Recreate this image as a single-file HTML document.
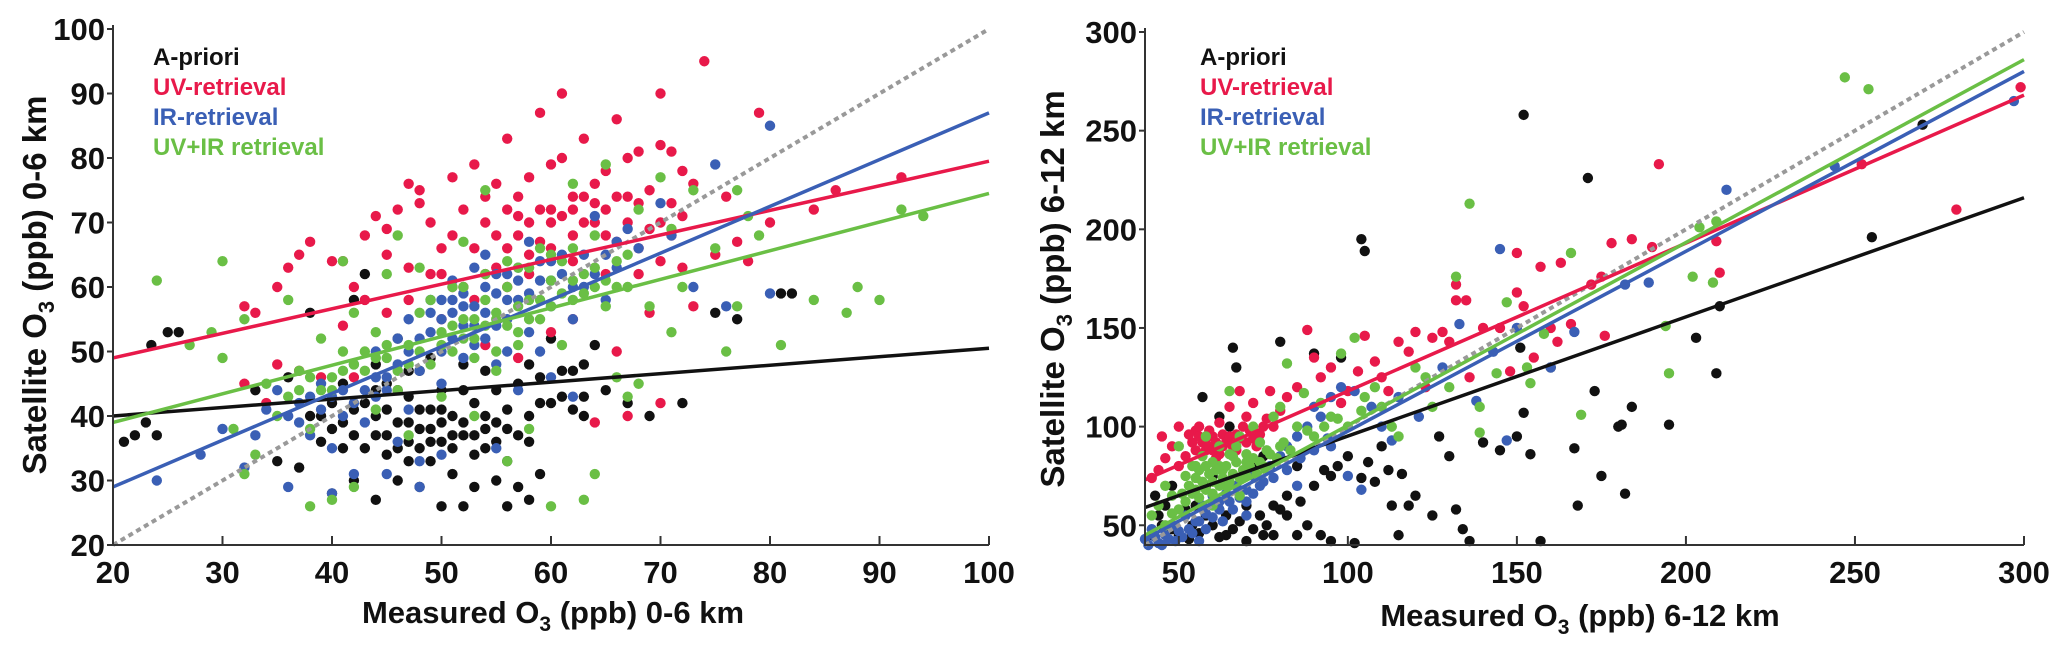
<!DOCTYPE html>
<html><head><meta charset="utf-8"><style>
html,body{margin:0;padding:0;background:#fff;}
svg{display:block;font-family:"Liberation Sans Narrow","Liberation Sans",sans-serif;font-weight:bold;}
</style></head><body>
<svg id="chart" width="2067" height="655" viewBox="0 0 2067 655" xmlns="http://www.w3.org/2000/svg"></svg>
<script>
// ---------- data: left panel (0-6 km) ----------
const leftApriori=[[21,36],[22,37],[23,39],[23.5,51],[24,37],[25,53],[26,53],[33,44],[35,33],[36,46],[37,32],[38,56],[39,40],[40,38],[40,28],[41,45],[41,35],[42,58],[42,30],[43,42],[44,37],[44,48],[45,45],[45,34],[46,39],[46,52],[47,36],[47,43],[48,29],[48,41],[48,47],[49,38],[49,33],[50,36],[50,26],[50,44],[51,40],[51,31],[52,37],[52,48],[53,29],[53,42],[54,35],[54,47],[55,30],[55,39],[55,44],[56,38],[56,33],[57,45],[57,29],[58,36],[58,27],[59,42],[59,31],[60,42],[60,52],[61,43],[62,47],[63,48],[63,40],[64,51],[65,44],[67,42],[69,40],[72,42],[75,56],[77,55],[81,59],[82,59],[46,30],[52,26],[49,49],[43,62],[38,40],[44,27],[56,26],[47,33],[51,35],[45,41],[39,36],[41,39],[42,41],[43,35],[44,40],[45,37],[46,35],[47,39],[48,38],[49,36],[50,39],[50,41],[51,37],[52,39],[53,37],[53,34],[54,40],[55,36],[56,41],[57,37],[58,40],[49,41],[47,47],[44,44],[40,42],[52,44],[54,38],[48,35],[46,44],[42,37],[61,47],[59,46],[58,48],[63,43],[62,41]];
const leftUV=[[32,57],[33,56],[35,60],[36,63],[37,65],[38,67],[40,64],[41,64],[42,60],[43,68],[44,71],[45,69],[45,65],[46,72],[47,76],[48,75],[48,73],[49,70],[50,66],[50,62],[51,77],[51,68],[52,72],[52,60],[53,79],[53,66],[54,74],[54,70],[55,76],[55,63],[56,83],[56,72],[57,74],[57,68],[58,77],[58,65],[59,87],[59,72],[60,79],[60,70],[61,80],[61,90],[62,72],[62,68],[63,83],[63,74],[64,76],[64,70],[65,78],[65,72],[66,86],[66,67],[67,80],[67,74],[68,81],[68,62],[69,75],[69,56],[70,90],[70,82],[71,81],[71,68],[72,78],[72,63],[73,76],[73,57],[74,95],[75,65],[76,74],[77,67],[78,64],[79,87],[80,70],[84,72],[86,75],[92,77],[35,48],[37,47],[39,46],[42,46],[47,58],[50,55],[54,51],[57,49],[60,53],[62,55],[66,50],[70,42],[67,40],[64,39],[34,42],[32,45],[55,68],[56,66],[57,71],[58,70],[59,67],[60,72],[61,71],[62,74],[63,70],[64,73],[65,68],[66,74],[67,70],[68,73],[69,69],[70,70],[71,73],[72,71],[60,66],[58,62],[56,60],[54,62],[62,64],[65,62],[68,66],[70,64],[53,58],[51,60],[49,62],[47,63],[45,56],[43,58],[41,54]];
const leftIR=[[24,30],[28,34],[30,38],[32,32],[33,37],[34,41],[35,44],[36,29],[37,42],[38,37],[39,45],[40,35],[41,44],[42,31],[42,48],[43,39],[44,50],[44,43],[45,46],[46,36],[46,52],[47,41],[47,55],[48,47],[48,33],[49,53],[49,58],[50,50],[50,45],[51,56],[51,61],[52,54],[52,49],[53,57],[53,63],[54,52],[54,65],[55,59],[55,48],[56,55],[56,62],[57,58],[57,44],[58,53],[58,67],[59,61],[59,50],[60,57],[60,64],[61,65],[62,55],[63,60],[64,71],[65,58],[66,63],[67,69],[68,66],[70,73],[71,68],[73,60],[75,79],[80,85],[80,59],[76,57],[55,35],[50,34],[45,31],[40,28],[60,46],[48,29],[62,43],[50,55],[51,52],[52,57],[52,59],[53,54],[53,51],[54,56],[54,60],[55,54],[55,62],[56,58],[56,50],[57,61],[57,63],[51,58],[50,58],[49,56],[48,52],[47,50],[46,48],[45,44],[44,46],[43,44],[42,42],[41,40],[40,43],[39,41],[38,43],[37,39],[36,40],[58,59],[59,64],[60,61],[61,62],[62,60],[63,65],[64,62],[65,65],[66,67]];
const leftUVIR=[[24,61],[27,51],[29,53],[30,64],[30,49],[31,38],[32,55],[32,31],[33,34],[34,45],[35,40],[36,58],[37,47],[38,26],[38,38],[39,52],[40,27],[40,44],[41,64],[41,50],[42,29],[42,56],[43,47],[44,53],[44,41],[45,49],[45,62],[46,44],[46,68],[47,51],[47,37],[48,56],[48,63],[49,48],[49,58],[50,53],[50,43],[51,60],[51,50],[52,55],[52,67],[53,52],[53,40],[54,58],[54,75],[55,55],[55,47],[56,60],[56,33],[57,53],[57,63],[58,58],[58,38],[59,66],[59,55],[60,61],[60,26],[61,64],[61,51],[62,76],[62,58],[63,27],[63,62],[64,31],[64,68],[65,57],[65,79],[66,64],[66,46],[67,60],[67,43],[68,72],[68,45],[69,57],[70,77],[71,53],[71,69],[72,60],[73,75],[75,66],[76,50],[77,57],[77,75],[78,71],[79,68],[81,51],[84,58],[88,60],[90,58],[92,72],[94,71],[87,56],[50,51],[51,54],[52,52],[53,55],[54,54],[55,56],[56,54],[57,57],[58,55],[59,58],[60,57],[61,59],[62,61],[63,59],[64,63],[65,61],[66,60],[67,65],[48,50],[47,48],[46,47],[45,51],[44,49],[43,50],[42,48],[41,47],[40,46],[39,44],[38,46],[37,44],[36,43],[52,60],[54,62],[56,64],[58,63],[60,65],[62,66],[64,60],[53,49],[55,50],[57,51]];
const leftFitStart=[40,49,29,39];   // apriori, UV, IR, UV+IR at x=20
const leftFitEnd=[50.5,79.5,87,74.5]; // at x=100
const leftXTicks=[20,30,40,50,60,70,80,90,100];
const leftYTicks=[20,30,40,50,60,70,80,90,100];
// ---------- data: right panel (6-12 km) ----------
const rightApriori=[[43,65],[45,50],[48,70],[50,45],[53,43],[55,60],[57,115],[58,55],[60,50],[62,105],[64,45],[65,100],[66,140],[67,130],[70,42],[72,80],[75,45],[78,60],[80,143],[82,55],[85,45],[88,50],[90,137],[92,45],[95,42],[98,135],[100,85],[102,41],[104,195],[105,189],[108,72],[110,90],[113,60],[115,45],[118,60],[120,65],[125,55],[127,95],[130,85],[132,58],[134,48],[136,42],[140,92],[145,88],[150,95],[151,140],[152,107],[152,258],[154,86],[157,42],[160,130],[167,89],[168,60],[171,226],[173,118],[175,75],[180,100],[181,101],[182,66],[184,110],[195,101],[203,145],[209,127],[210,161],[255,196],[270,253],[75,85],[85,80],[95,75],[60,75],[42,45],[44,55],[46,60],[48,48],[52,58],[54,50],[56,46],[58,70],[60,62],[62,44],[64,55],[66,48],[68,52],[70,60],[72,48],[74,55],[76,50],[78,45],[80,58],[82,65],[86,62],[90,70],[93,78],[97,80],[104,74],[106,82],[112,78],[116,76]];
const rightUV=[[42,74],[45,95],[48,90],[50,100],[52,85],[55,98],[57,92],[58,88],[60,95],[62,102],[63,90],[65,110],[67,96],[68,118],[70,105],[72,112],[75,100],[77,118],[80,108],[82,115],[85,120],[88,149],[90,135],[92,125],[95,130],[98,112],[100,118],[103,128],[105,146],[108,133],[110,125],[112,118],[115,143],[118,138],[120,148],[123,120],[125,145],[128,148],[130,143],[132,172],[132,164],[135,164],[136,125],[140,150],[145,150],[148,128],[150,168],[150,188],[152,161],[155,135],[157,181],[160,150],[162,143],[163,183],[166,152],[172,172],[175,176],[176,146],[178,193],[184,195],[190,191],[192,233],[209,194],[210,178],[252,233],[280,210],[299,272],[54,92],[55,88],[56,95],[57,86],[58,94],[59,90],[60,88],[61,92],[62,86],[63,96],[64,92],[66,90],[67,88],[68,94],[70,92],[71,98],[72,94],[74,96],[76,104],[78,100],[44,78],[46,84],[50,80],[53,96],[56,100],[59,98],[61,84],[65,95],[69,100],[73,90]];
const rightIR=[[40,43],[42,48],[44,41],[46,45],[48,50],[50,47],[52,55],[55,52],[57,60],[58,48],[60,65],[62,58],[65,62],[67,70],[70,68],[72,75],[75,72],[77,80],[80,85],[82,90],[85,95],[88,100],[90,110],[92,105],[95,115],[98,120],[100,75],[102,118],[104,68],[107,110],[110,100],[113,93],[115,115],[121,105],[128,130],[133,152],[138,113],[143,138],[145,190],[147,93],[150,150],[160,130],[167,148],[182,172],[189,173],[212,220],[244,232],[297,265],[85,70],[95,90],[70,55],[63,52],[56,42],[41,40],[43,44],[45,40],[47,43],[49,42],[51,44],[53,48],[54,46],[56,52],[58,56],[60,54],[62,62],[64,66],[66,58],[68,64],[70,62],[72,66],[74,70],[78,74],[82,78],[86,84],[90,88],[94,94]];
const rightUVIR=[[42,55],[44,60],[46,70],[48,65],[50,90],[52,75],[54,80],[55,68],[57,85],[58,95],[60,72],[62,90],[63,78],[65,118],[66,85],[68,95],[70,82],[72,100],[74,92],[76,88],[78,105],[80,110],[82,132],[85,100],[87,117],[90,95],[92,112],[95,105],[98,137],[100,100],[102,145],[105,115],[108,120],[110,110],[113,100],[115,95],[120,130],[123,125],[125,110],[130,120],[132,176],[136,213],[139,97],[139,110],[144,127],[147,163],[153,130],[154,122],[158,147],[166,188],[169,106],[194,151],[195,127],[202,176],[204,201],[208,173],[209,204],[247,277],[254,271],[60,60],[64,70],[70,75],[75,80],[80,90],[56,78],[68,65],[52,62],[53,70],[54,66],[55,74],[56,64],[57,72],[58,68],[59,76],[60,66],[61,78],[62,70],[63,74],[64,80],[65,72],[66,76],[67,82],[68,74],[69,78],[70,86],[71,80],[72,84],[73,76],[74,82],[76,78],[77,86],[79,84],[81,92],[83,88],[46,50],[48,56],[50,58],[51,66],[60,82],[62,80],[65,86],[67,90],[58,80],[55,80],[88,98],[93,100],[97,104],[104,108]];
const rightFitStart=[59,73,43,45]; // at x=40
const rightFitEnd=[216,268,280,286]; // at x=300
const rightXTicks=[50,100,150,200,250,300];
const rightYTicks=[50,100,150,200,250,300];
const seriesNames=["A-priori","UV-retrieval","IR-retrieval","UV+IR retrieval"];
const seriesColors=["#111111","#e8194a","#3a5fb5","#6abf45"];

const NS="http://www.w3.org/2000/svg";
const svg=document.getElementById('chart');
function mk(tag,attrs,parent){const e=document.createElementNS(NS,tag);for(const k in attrs)e.setAttribute(k,attrs[k]);(parent||svg).appendChild(e);return e;}

function panel(cfg){
  const g=mk('g',{});
  
  
  const sx=v=>cfg.px0+(v-cfg.xmin)/(cfg.xmax-cfg.xmin)*(cfg.px1-cfg.px0);
  const sy=v=>cfg.py0-(v-cfg.ymin)/(cfg.ymax-cfg.ymin)*(cfg.py0-cfg.py1);
  cfg.series.forEach((pts,si)=>{
    const sg=mk('g',{fill:seriesColors[si]},g);
    
    
    pts.forEach(p=>{
      const c=mk('circle',{cx:sx(p[0]),cy:sy(p[1]),r:5.2},sg);
      
      
    });
  });
  const one=mk('line',{x1:sx(cfg.xmin),y1:sy(cfg.xmin),x2:sx(cfg.xmax),y2:sy(cfg.xmax),stroke:'#999','stroke-width':4,'stroke-dasharray':'5 4'},g);
  
  
  cfg.fs.forEach((v,i)=>{
    const l=mk('line',{x1:sx(cfg.xmin),y1:sy(v),x2:sx(cfg.xmax),y2:sy(cfg.fe[i]),stroke:seriesColors[i],'stroke-width':3.5},g);
    
    
  });
  const ax=mk('path',{d:`M${cfg.px0},${cfg.py1-4} V${cfg.py0} H${cfg.px1}`,fill:'none',stroke:'#333','stroke-width':2},g);
  
  
  cfg.xt.forEach(t=>{
    mk('line',{x1:sx(t),y1:cfg.py0,x2:sx(t),y2:cfg.py0-9,stroke:'#333','stroke-width':2},g);
    const tx=mk('text',{x:sx(t),y:cfg.py0+38,'text-anchor':'middle','font-size':31,fill:'#111'},g);
    tx.textContent=t;
    
    
  });
  cfg.yt.forEach(t=>{
    mk('line',{x1:cfg.px0,y1:sy(t),x2:cfg.px0-6,y2:sy(t),stroke:'#333','stroke-width':2},g);
    const tx=mk('text',{x:cfg.px0-8,y:sy(t)+11,'text-anchor':'end','font-size':31,fill:'#111'},g);
    tx.textContent=t;
    
    
  });
  seriesNames.forEach((n,i)=>{
    const tx=mk('text',{x:cfg.lx,y:65+i*30,'font-size':24,fill:seriesColors[i]},g);
    tx.textContent=n;
    
    
  });
  const xt=mk('text',{x:cfg.xtx,y:cfg.xty,'text-anchor':'middle','font-size':31,fill:'#111'},g);
  xt.innerHTML='Measured O<tspan font-size="21" dy="8">3</tspan><tspan dy="-8"> (ppb) '+cfg.unit+'</tspan>';
  
  
  const yt=mk('text',{x:0,y:0,'text-anchor':'middle','font-size':33,fill:'#111','font-family':'"Liberation Sans",sans-serif',transform:`translate(${cfg.ytx},${cfg.yty}) rotate(-90)`},g);
  yt.innerHTML='Satellite O<tspan font-size="22" dy="8">3</tspan><tspan dy="-8"> (ppb) '+cfg.unit+'</tspan>';
  
  
}
panel({name:'left-panel-0-6km',prefix:'left',xmin:20,xmax:100,ymin:20,ymax:100,px0:113,px1:989,py0:545,py1:29,
  series:[leftApriori,leftUV,leftIR,leftUVIR],fs:leftFitStart,fe:leftFitEnd,xt:leftXTicks,yt:leftYTicks,
  lx:153,unit:'0-6 km',xtx:553,xty:623,ytx:46,yty:285});
panel({name:'right-panel-6-12km',prefix:'right',xmin:40,xmax:300,ymin:40,ymax:300,px0:1145,px1:2024,py0:545,py1:32,
  series:[rightApriori,rightUV,rightIR,rightUVIR],fs:rightFitStart,fe:rightFitEnd,xt:rightXTicks,yt:rightYTicks,
  lx:1200,unit:'6-12 km',xtx:1580,xty:626,ytx:1064,yty:289});
</script>
</body></html>
